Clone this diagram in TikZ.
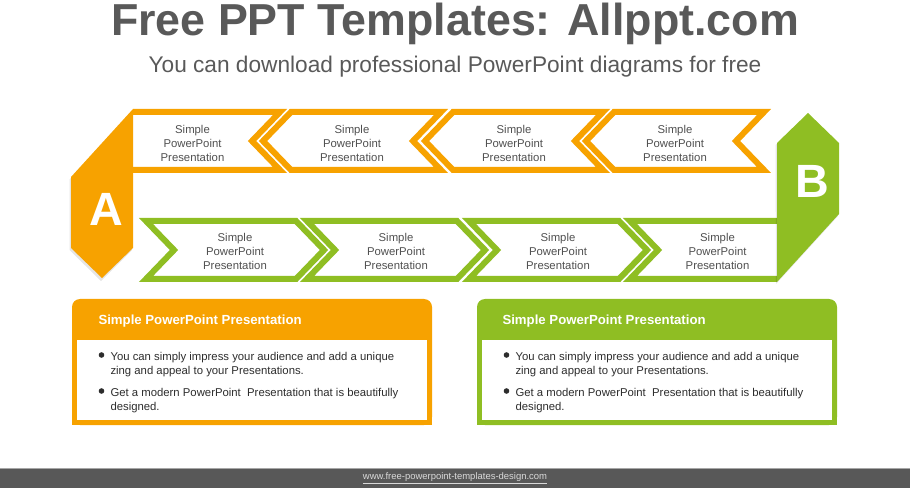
\documentclass[tikz,border=0pt]{standalone}
\usepackage{fontspec}
\setmainfont{Liberation Sans}
\definecolor{orangeA}{RGB}{247,162,0}
\definecolor{greenB}{RGB}{143,190,35}
\definecolor{titleGray}{RGB}{89,89,89}
\definecolor{labelGray}{RGB}{80,80,80}
\definecolor{bodyGray}{RGB}{45,45,45}
\definecolor{footGray}{RGB}{88,88,88}
\tikzset{
	orangeArrow/.style={draw=orangeA, fill=white, line width=4.5pt},
	greenArrow/.style={draw=greenB, fill=white, line width=4.5pt},
	arrowLabel/.style={align=center, inner sep=0pt, text=labelGray, font=\fontsize{8.5}{10.5}\selectfont},
	hexLetter/.style={text=white, inner sep=0pt, font=\fontsize{35}{35}\selectfont\bfseries},
	boxHead/.style={anchor=west, inner sep=0pt, text=white, font=\fontsize{9.9}{12}\selectfont\bfseries},
	bulletText/.style={anchor=west, align=left, inner sep=0pt, text=bodyGray, font=\fontsize{8.5}{10.5}\selectfont},
	bulletDot/.style={circle, fill=bodyGray, inner sep=0pt, minimum size=4.2pt},
	hexShadow/.style={black, opacity=0.1}}
\tikzset{every picture/.style={line width=0.75pt}}

\begin{document}
\begin{tikzpicture}[x=0.75pt,y=0.75pt,yscale=-1,xscale=1]
	\useasboundingbox (0,0) rectangle (910,488);

	% Text Node
	\node[anchor=base, text=titleGray, font=\fontsize{33.6}{36}\selectfont\bfseries] (title) at (455,36) {Free PPT Templates: Allppt.com};
	% Text Node
	\node[anchor=base, text=titleGray, font=\fontsize{17}{20}\selectfont] (subtitle) at (455,73) {You can download professional PowerPoint diagrams for free};

	%Shape: orange arrows, pointing left
	\draw[orangeArrow] (133,112) -- (280,112) -- (252,141) -- (280,170) -- (133,170) ;
	\draw[orangeArrow] (291,112) -- (441,112) -- (413,141) -- (441,170) -- (291,170) -- (263,141) -- cycle ;
	\draw[orangeArrow] (453,112) -- (603,112) -- (575,141) -- (603,170) -- (453,170) -- (425,141) -- cycle ;
	\draw[orangeArrow] (614,112) -- (764,112) -- (736,141) -- (764,170) -- (614,170) -- (586,141) -- cycle ;
	%Shape: green arrows, pointing right
	\draw[greenArrow] (146,221) -- (296,221) -- (324,250) -- (296,279) -- (146,279) -- (174,250) -- cycle ;
	\draw[greenArrow] (307,221) -- (457,221) -- (485,250) -- (457,279) -- (307,279) -- (335,250) -- cycle ;
	\draw[greenArrow] (469,221) -- (619,221) -- (647,250) -- (619,279) -- (469,279) -- (497,250) -- cycle ;
	\draw[greenArrow] (777,221) -- (630,221) -- (658,250) -- (630,279) -- (777,279) ;

	%Shape: hexagon A
	\fill[hexShadow] (132,111) -- (69.5,179.5) -- (69.5,250) -- (101,281) -- (132,250) -- cycle ;
	\fill[orangeA] (133,109) -- (71,177) -- (71,248) -- (102,278) -- (133,248) -- cycle ;
	%Shape: hexagon B
	\fill[hexShadow] (776,284) -- (838,216) -- (838,145) -- (807,115) -- (775.5,145) -- cycle ;
	\fill[greenB] (777,282) -- (839,214) -- (839,143) -- (808,113) -- (777,143) -- cycle ;

	% Text Node
	\node[hexLetter] (lettA) at (106,209) {A};
	% Text Node
	\node[hexLetter] (lettB) at (812,181) {B};

	% Text Node
	\node[arrowLabel] (lblO1) at (192.5,143) {Simple\\PowerPoint\\Presentation};
	\node[arrowLabel] (lblO2) at (352,143) {Simple\\PowerPoint\\Presentation};
	\node[arrowLabel] (lblO3) at (514,143) {Simple\\PowerPoint\\Presentation};
	\node[arrowLabel] (lblO4) at (675,143) {Simple\\PowerPoint\\Presentation};
	\node[arrowLabel] (lblG1) at (235,251.5) {Simple\\PowerPoint\\Presentation};
	\node[arrowLabel] (lblG2) at (396,251.5) {Simple\\PowerPoint\\Presentation};
	\node[arrowLabel] (lblG3) at (558,251.5) {Simple\\PowerPoint\\Presentation};
	\node[arrowLabel] (lblG4) at (717.5,251.5) {Simple\\PowerPoint\\Presentation};

	%Shape: orange text box
	\fill[orangeA, rounded corners=6] (72,299) rectangle (432,425) ;
	\fill[orangeA] (72,320) rectangle (432,425) ;
	\fill[white] (77,340) rectangle (427,420) ;
	%Shape: green text box
	\fill[greenB, rounded corners=6] (477,299) rectangle (837,425) ;
	\fill[greenB] (477,320) rectangle (837,425) ;
	\fill[white] (482,340) rectangle (832,420) ;

	% Text Node
	\node[boxHead] (headO) at (98,321.5) {Simple PowerPoint Presentation};
	\node[bulletDot] (dotO1) at (101.5,355) {};
	\node[bulletText] (itemO1) at (110,365) {You can simply impress your audience and add a unique\\zing and appeal to your Presentations.};
	\node[bulletDot] (dotO2) at (101.5,391) {};
	\node[bulletText] (itemO2) at (110,400.5) {Get a modern PowerPoint \ Presentation that is beautifully\\designed.};
	% Text Node
	\node[boxHead] (headG) at (502,321.5) {Simple PowerPoint Presentation};
	\node[bulletDot] (dotG1) at (506.5,355) {};
	\node[bulletText] (itemG1) at (515,365) {You can simply impress your audience and add a unique\\zing and appeal to your Presentations.};
	\node[bulletDot] (dotG2) at (506.5,391) {};
	\node[bulletText] (itemG2) at (515,400.5) {Get a modern PowerPoint \ Presentation that is beautifully\\designed.};

	%Shape: footer bar
	\fill[footGray] (0,468) rectangle (910,488) ;
	\draw[gray!70, line width=0.6pt] (0,468) -- (910,468) ;
	% Text Node
	\node[text=white!85!black, inner sep=0pt, font=\fontsize{7.1}{9}\selectfont] (url) at (455,478) {\underline{www.free-powerpoint-templates-design.com}};

\end{tikzpicture}
\end{document}
